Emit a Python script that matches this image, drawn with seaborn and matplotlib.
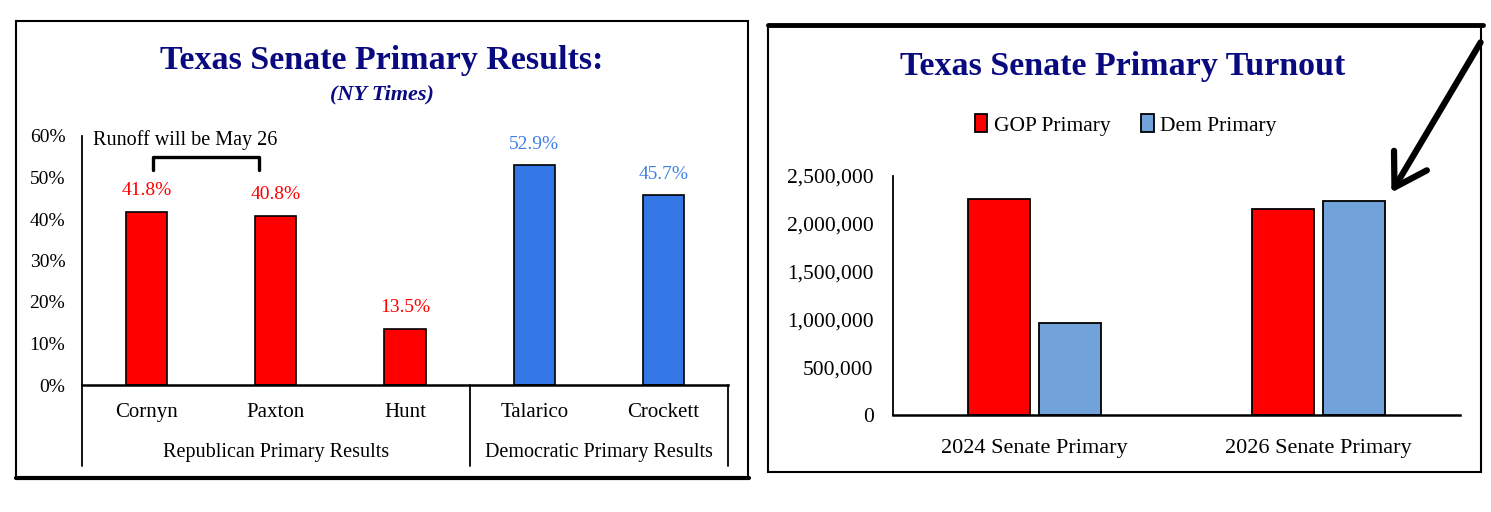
import numpy as np
import pandas as pd
import matplotlib
matplotlib.use("Agg")
import matplotlib.pyplot as plt
import seaborn as sns
from matplotlib.patches import Rectangle, FancyArrowPatch
from matplotlib.lines import Line2D

# data
candidates = ["Cornyn", "Paxton", "Hunt", "Talarico", "Crockett"]
shares = [0.418, 0.408, 0.135, 0.529, 0.457]
party = ["Republican Primary Results"] * 3 + ["Democratic Primary Results"] * 2
cand_colors = ["#FF0000", "#FF0000", "#FF0000", "#3378E6", "#3378E6"]
label_colors = ["#FF0000", "#FF0000", "#FF0000", "#3F80E8", "#3F80E8"]

years = ["2024 Senate Primary", "2026 Senate Primary"]
gop_turnout = [2260000, 2150000]
dem_turnout = [965000, 2240000]

sns.set_theme(style="white")
plt.rcParams["font.family"] = ["Liberation Serif", "DejaVu Serif"]
plt.rcParams["text.color"] = "black"
plt.rcParams["xtick.color"] = "black"
plt.rcParams["ytick.color"] = "black"

W, H = 1491, 512
fig = plt.figure(figsize=(W / 100, H / 100), dpi=100)

def fx(px):
    return px / W

def fy(py):
    return 1 - py / H

# frames round each panel
fig.add_artist(Rectangle((fx(16), fy(478)), fx(748) - fx(16), fy(21) - fy(478),
                         fill=False, ec="black", lw=1.5, transform=fig.transFigure))
fig.add_artist(Line2D([fx(16), fx(749)], [fy(478), fy(478)], color="black", lw=3, transform=fig.transFigure))
fig.add_artist(Rectangle((fx(768), fy(472)), fx(1481) - fx(768), fy(25) - fy(472),
                         fill=False, ec="black", lw=1.5, transform=fig.transFigure))
fig.add_artist(Line2D([fx(768), fx(1483)], [fy(25), fy(25)], color="black", lw=3.5, transform=fig.transFigure))

navy = "#0A0A80"

########################################################################################################################
# left panel
ax1 = fig.add_axes([fx(82), fy(385), fx(728) - fx(82), fy(136) - fy(385)])
df1 = pd.DataFrame({"Candidate": candidates, "Share": shares, "Party": party})
sns.barplot(data=df1, x="Candidate", y="Share", hue="Candidate", palette=cand_colors,
            width=0.32, saturation=1, edgecolor="black", linewidth=1.2, legend=False, ax=ax1)
ax1.set_xlim(-0.5, 4.5)
ax1.set_ylim(0, 0.6)
ax1.set_yticks(np.arange(0, 0.61, 0.1))
ax1.set_yticklabels([f"{int(round(v * 100))}%" for v in np.arange(0, 0.61, 0.1)], fontsize=14)
ax1.set_xticks([])
ax1.set_xlabel("")
ax1.set_ylabel("")
ax1.tick_params(axis="y", length=0, pad=12)
for s in ["top", "right"]:
    ax1.spines[s].set_visible(False)
ax1.spines["left"].set_color("black")
ax1.spines["bottom"].set_color("black")
ax1.spines["left"].set_linewidth(1.3)
ax1.spines["bottom"].set_linewidth(1.8)

for i, (v, c) in enumerate(zip(shares, label_colors)):
    ax1.annotate(f"{v * 100:.1f}%", (i, v), xytext=(0, 9), textcoords="offset points",
                 ha="center", va="bottom", color=c, fontsize=14)

# category and group labels below the axis
tb = ax1.get_xaxis_transform()
for i, name in enumerate(candidates):
    ax1.text(i, -0.11, name, transform=tb, ha="center", va="center", fontsize=15)
ax1.text(1, -0.27, party[0], transform=tb, ha="center", va="center", fontsize=14.5)
ax1.text(3.5, -0.27, party[3], transform=tb, ha="center", va="center", fontsize=14.5)
for xs in [-0.5, 2.5, 4.5]:
    ax1.plot([xs, xs], [0, -0.325], transform=tb, color="black", lw=1.3, clip_on=False)

# runoff bracket
ax1.plot([0.05, 0.05, 0.87, 0.87], [0.518, 0.549, 0.549, 0.518], color="black", lw=2.4,
         solid_joinstyle="round")
ax1.text(0.3, 0.590, "Runoff will be May 26", ha="center", va="center", fontsize=14.5)

fig.text(fx(382), fy(61), "Texas Senate Primary Results:", ha="center", va="center",
         fontsize=24.5, fontweight="bold", color=navy)
fig.text(fx(382), fy(94), "(NY Times)", ha="center", va="center",
         fontsize=16, fontweight="bold", fontstyle="italic", color=navy)

########################################################################################################################
# right panel
ax2 = fig.add_axes([fx(893), fy(415), fx(1460) - fx(893), fy(176) - fy(415)])
df2 = pd.DataFrame({
    "Year": years * 2,
    "Turnout": gop_turnout + dem_turnout,
    "Primary": ["GOP Primary"] * 2 + ["Dem Primary"] * 2,
})
sns.barplot(data=df2, x="Year", y="Turnout", hue="Primary",
            palette={"GOP Primary": "#FF0000", "Dem Primary": "#72A2DA"}, saturation=1,
            width=0.5, gap=0.12, edgecolor="black", linewidth=1.3, ax=ax2)
ax2.set_xlim(-0.5, 1.5)
ax2.set_ylim(0, 2500000)
ax2.set_yticks(np.arange(0, 2500001, 500000))
ax2.set_yticklabels([f"{int(v):,}" for v in np.arange(0, 2500001, 500000)], fontsize=15.5)
ax2.set_xticks([0, 1])
ax2.set_xticklabels(years, fontsize=16)
ax2.set_xlabel("")
ax2.set_ylabel("")
ax2.tick_params(axis="y", length=0, pad=14)
ax2.tick_params(axis="x", length=0, pad=17)
for s in ["top", "right"]:
    ax2.spines[s].set_visible(False)
ax2.spines["left"].set_color("black")
ax2.spines["bottom"].set_color("black")
ax2.spines["left"].set_linewidth(1.3)
ax2.spines["bottom"].set_linewidth(1.8)

leg = ax2.legend(loc="center", bbox_to_anchor=(0.41, 1.213), ncol=2, frameon=False,
                 fontsize=15.5, handlelength=0.6, handleheight=0.9, handletextpad=0.3,
                 columnspacing=1.4)

fig.text(fx(1123), fy(67), "Texas Senate Primary Turnout", ha="center", va="center",
         fontsize=24.5, fontweight="bold", color=navy)

# arrow pointing at the 2026 Dem bar
fig.add_artist(FancyArrowPatch(
    (fx(1482), fy(40)), (fx(1390), fy(195)), transform=fig.transFigure,
    arrowstyle="->,head_length=0.9,head_width=0.55", color="black", lw=4.5,
    mutation_scale=25, capstyle="round", joinstyle="round"))

fig.savefig("out.png", dpi=100)
